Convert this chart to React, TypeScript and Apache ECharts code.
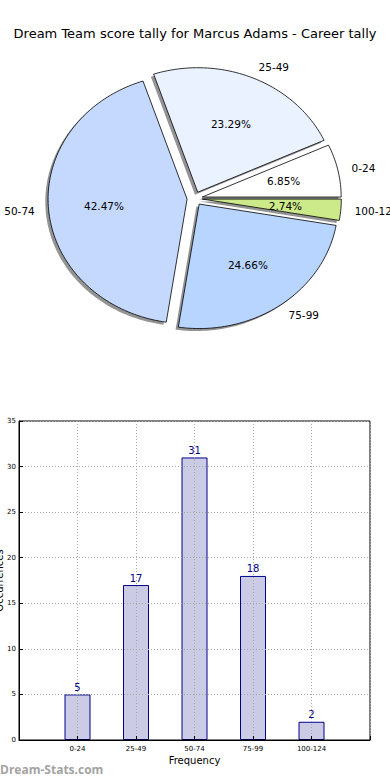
import React, { useEffect, useRef } from 'react';
import * as echarts from 'echarts';

const categories = ['0-24', '25-49', '50-74', '75-99', '100-124'];
const counts = [5, 17, 31, 18, 2];
const pieColors = ['#ffffff', '#eaf2ff', '#c5d9ff', '#b7d5ff', '#cdea8a'];
const titleText = 'Dream Team score tally for Marcus Adams - Career tally';

const total = counts.reduce((a, b) => a + b, 0);
const cum: number[] = [0];
counts.forEach((c, i) => cum.push(cum[i] + c));

const FONT = 'DejaVu Sans';
const CX = 194.7;
const CY = 198.5;
const RX = 139;
const RY = 124.5;
const E = 0.055;

export default function App() {
  const ref = useRef<HTMLDivElement>(null);
  useEffect(() => {
    document.body.style.margin = '0';
    const chart = echarts.init(ref.current!, undefined, { renderer: 'svg' });
    const option: any = {
      animation: false,
      backgroundColor: '#ffffff',
      title: {
        text: titleText,
        left: 'center',
        top: 22,
        textStyle: { fontFamily: FONT, fontSize: 13, fontWeight: 'normal', color: '#000' },
      },
      graphic: [
        {
          type: 'text',
          left: 0,
          top: 763,
          style: { text: 'Dream-Stats.com', fill: '#a3a3a3', font: 'bold 12px "Open Sans"' },
        },
      ],
      grid: {
        left: 19,
        right: 20,
        top: 421,
        bottom: 40,
        show: true,
        borderColor: '#000',
        borderWidth: 1,
        containLabel: false,
        outerBoundsMode: 'none',
        z: 3,
      },
      xAxis: {
        type: 'category',
        data: ['', ...categories, ''],
        boundaryGap: false,
        z: 3,
        name: 'Frequency',
        nameLocation: 'middle',
        nameGap: 15,
        nameMoveOverlap: false,
        nameTextStyle: { fontFamily: FONT, fontSize: 10, color: '#000' },
        axisLine: { show: true, lineStyle: { color: '#000', width: 1 } },
        axisTick: { show: true, inside: true, length: 4, interval: 0, lineStyle: { color: '#000' } },
        axisLabel: { interval: 0, fontFamily: FONT, fontSize: 7, color: '#000', margin: 5 },
        splitLine: { show: true, interval: 0, lineStyle: { color: '#a8a8a8', width: 1, type: [1, 2] } },
      },
      yAxis: {
        type: 'value',
        min: 0,
        max: 35,
        interval: 5,
        z: 3,
        name: 'Occurrences',
        nameLocation: 'middle',
        nameGap: 15,
        nameMoveOverlap: false,
        nameTextStyle: { fontFamily: FONT, fontSize: 10, color: '#000' },
        axisLine: { show: true, lineStyle: { color: '#000', width: 1 } },
        axisTick: { show: true, inside: true, length: 4, lineStyle: { color: '#000' } },
        axisLabel: { fontFamily: FONT, fontSize: 7, color: '#000', margin: 3 },
        splitLine: { show: true, lineStyle: { color: '#a8a8a8', width: 1, type: [1, 2] } },
      },
      series: [
        {
          type: 'bar',
          data: ['-', ...counts, '-'],
          barWidth: 26,
          itemStyle: { color: '#cbcbe5', borderColor: '#00008b', borderWidth: 1 },
          label: {
            show: true,
            position: 'top',
            distance: 2,
            color: '#00008b',
            fontFamily: FONT,
            fontSize: 10,
          },
          z: 2,
        },
        {
          type: 'custom',
          coordinateSystem: 'none',
          data: counts,
          silent: true,
          renderItem: (params: any, api: any) => {
            const i = params.dataIndex;
            const v = api.value(0);
            const a0 = (cum[i] / total) * Math.PI * 2;
            const a1 = a0 + (v / total) * Math.PI * 2;
            const mid = (a0 + a1) / 2;
            const cm = Math.cos(mid);
            const sm = Math.sin(mid);
            const ox = CX + E * RX * cm;
            const oy = CY - E * RY * sm;
            const pts: number[][] = [[ox, oy]];
            const n = Math.max(4, Math.ceil((a1 - a0) / (Math.PI / 120)));
            for (let k = 0; k <= n; k++) {
              const a = a0 + ((a1 - a0) * k) / n;
              pts.push([ox + RX * Math.cos(a), oy - RY * Math.sin(a)]);
            }
            const shadowPts = pts.map((p) => [p[0] - 0.02 * RX, p[1] + 0.02 * RY]);
            const pct = ((v / total) * 100).toFixed(2) + '%';
            return {
              type: 'group',
              children: [
                {
                  type: 'polygon',
                  shape: { points: shadowPts },
                  style: { fill: 'rgba(60,60,60,0.55)' },
                  z2: 0,
                },
                {
                  type: 'polygon',
                  shape: { points: pts },
                  style: { fill: pieColors[i], stroke: '#000', lineWidth: 0.8 },
                  z2: 10,
                },
                {
                  type: 'text',
                  x: CX + (0.6 + E) * RX * cm,
                  y: CY - (0.6 + E) * RY * sm,
                  style: {
                    text: pct,
                    align: 'center',
                    verticalAlign: 'middle',
                    fill: '#000',
                    font: `10.5px "${FONT}"`,
                  },
                  z2: 20,
                },
                {
                  type: 'text',
                  x: CX + (1.1 + E) * RX * cm,
                  y: CY - (1.1 + E) * RY * sm,
                  style: {
                    text: categories[i],
                    align: cm >= 0 ? 'left' : 'right',
                    verticalAlign: 'middle',
                    fill: '#000',
                    font: `10.5px "${FONT}"`,
                  },
                  z2: 20,
                },
              ],
            };
          },
        },
      ],
    };
    chart.setOption(option);
    return () => chart.dispose();
  }, []);
  return <div ref={ref} style={{ width: 390, height: 780 }} />;
}
